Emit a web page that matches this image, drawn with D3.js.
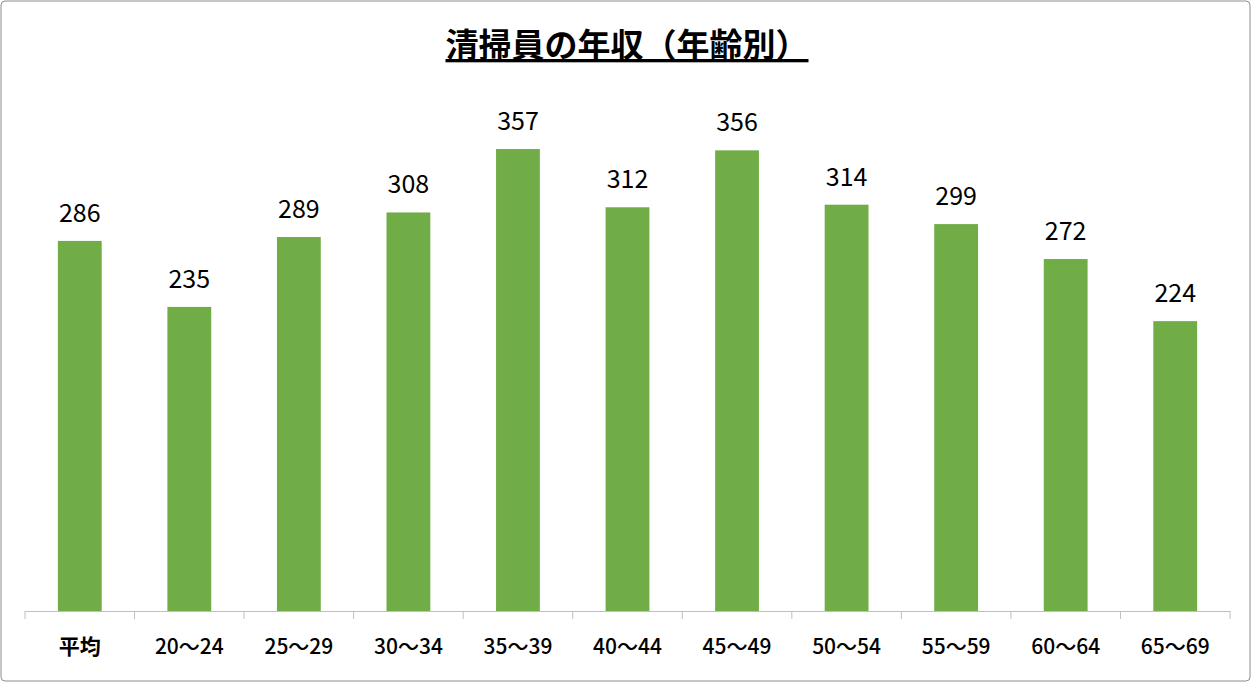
<!DOCTYPE html>
<html><head><meta charset="utf-8">
<script src="https://cdn.jsdelivr.net/npm/d3@7/dist/d3.min.js"></script>
<style>body{margin:0;background:#fff}</style></head>
<body><svg id="c" width="1252" height="683"></svg>
<script>
const categories=["平均","20〜24","25〜29","30〜34","35〜39","40〜44","45〜49","50〜54","55〜59","60〜64","65〜69"];
const values=[286,235,289,308,357,312,356,314,299,272,224];
const title="清掃員の年収（年齢別）";
const svg=d3.select("#c");
const font="'Noto Sans CJK JP','Noto Sans',sans-serif";
svg.append("rect").attr("x",1).attr("y",1).attr("width",1249).attr("height",680).attr("rx",4)
 .attr("fill","#fff").attr("stroke","#8c8c8c").attr("stroke-width",1);
svg.append("text").attr("x",627).attr("y",57).attr("text-anchor","middle")
 .attr("font-family",font).attr("font-size",33).attr("font-weight","bold").attr("fill","#000")
 .attr("text-decoration","underline").text(title);
const x=d3.scaleBand().domain(categories).range([25,1230]).paddingInner(0.6).paddingOuter(0.3);
const y=d3.scaleLinear().domain([0,400]).range([611,93.4]);
const xb=d3.scaleBand().domain(categories).range([25,1230]);
svg.selectAll(".bar").data(values).join("rect")
 .attr("x",(d,i)=>x(categories[i])).attr("width",x.bandwidth())
 .attr("y",d=>y(d)).attr("height",d=>y(0)-y(d)).attr("fill","#70AD47");
svg.selectAll(".lab").data(values).join("text")
 .attr("x",(d,i)=>x(categories[i])+x.bandwidth()/2).attr("y",d=>y(d)-19)
 .attr("text-anchor","middle").attr("font-family",font).attr("font-size",25).attr("fill","#000").text(d=>d);
const ax=svg.append("g").attr("transform","translate(0,611)")
 .call(d3.axisBottom(xb).tickSize(0).tickPadding(28));
ax.select(".domain").attr("stroke","#bfbfbf");
ax.selectAll("text").attr("font-family",font).attr("font-size",21).attr("font-weight",500).attr("fill","#000");
ax.select(".tick text").attr("font-weight","bold");
const bounds=categories.map(c=>xb(c)).concat([1230]);
svg.selectAll(".tk").data(bounds).join("line")
 .attr("x1",d=>d).attr("x2",d=>d).attr("y1",611).attr("y2",619).attr("stroke","#bfbfbf");
</script></body></html>
